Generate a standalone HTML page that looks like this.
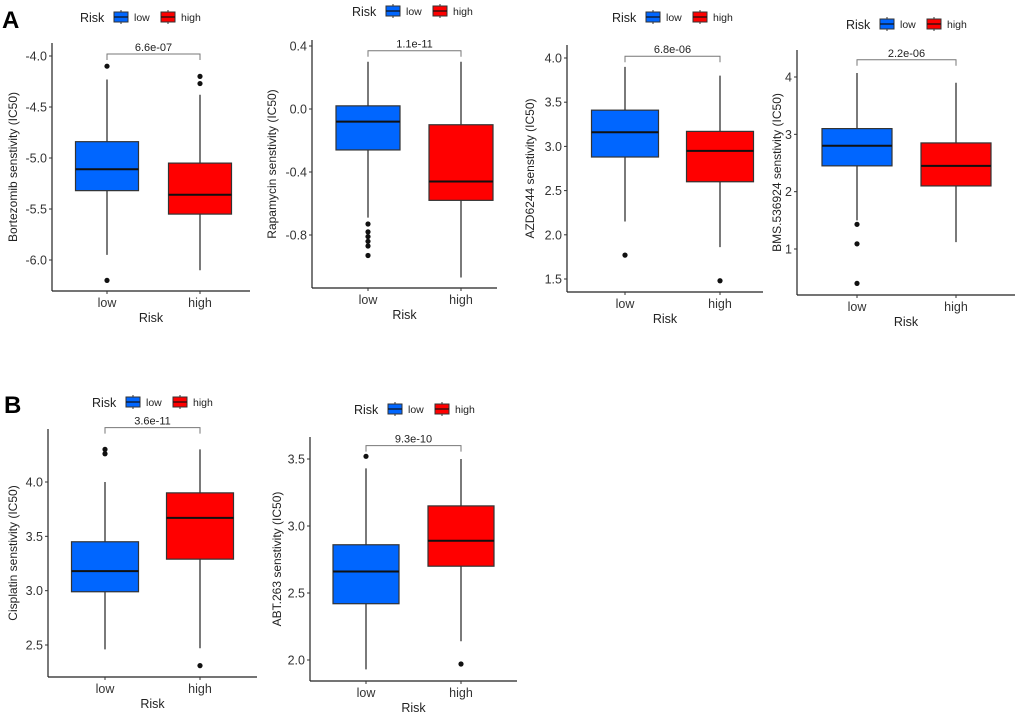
<!DOCTYPE html>
<html><head><meta charset="utf-8">
<style>
body{margin:0;background:#fff;}
svg{display:block;font-family:"Liberation Sans",Arial,sans-serif;}
</style></head>
<body>
<svg id="fig" width="1020" height="715" viewBox="0 0 1020 715">
<text x="2" y="28" font-size="24" font-weight="bold">A</text>
<text x="4" y="413" font-size="24" font-weight="bold">B</text>
</svg>
<script>
// ---- data (values per panel: [low, high]) ----
const categories = ["low", "high"];
const drugNames = ["Bortezomib", "Rapamycin", "AZD6244", "BMS.536924", "Cisplatin", "ABT.263"];
const pValues = ["6.6e-07", "1.1e-11", "6.8e-06", "2.2e-06", "3.6e-11", "9.3e-10"];
const tickLabels = [
  ["-4.0","-4.5","-5.0","-5.5","-6.0"],
  ["0.4","0.0","-0.4","-0.8"],
  ["4.0","3.5","3.0","2.5","2.0","1.5"],
  ["4","3","2","1"],
  ["4.0","3.5","3.0","2.5"],
  ["3.5","3.0","2.5","2.0"]
];
const whiskerLow = [[-5.95,-6.1],[-0.69,-1.07],[2.15,1.86],[1.5,1.12],[2.46,2.47],[1.93,2.14]];
const q1Values   = [[-5.32,-5.55],[-0.26,-0.58],[2.88,2.6],[2.45,2.1],[2.99,3.29],[2.42,2.7]];
const medians    = [[-5.11,-5.36],[-0.08,-0.46],[3.16,2.95],[2.8,2.45],[3.18,3.67],[2.66,2.89]];
const q3Values   = [[-4.84,-5.05],[0.02,-0.1],[3.41,3.17],[3.1,2.85],[3.45,3.9],[2.86,3.15]];
const whiskerHigh= [[-4.23,-4.38],[0.3,0.3],[3.9,3.8],[4.07,3.9],[4.0,4.3],[3.43,3.5]];
const outliers   = [
  [[-4.1,-6.2],[-4.2,-4.27]],
  [[-0.73,-0.78,-0.81,-0.84,-0.87,-0.93],[]],
  [[1.77],[1.48]],
  [[1.43,1.09,0.4],[]],
  [[4.26,4.3],[2.31]],
  [[3.52],[1.97]]
];
const bracketValues = [-3.98, 0.37, 4.02, 4.3, 4.5, 3.6];

// ---- layout (pixel geometry per panel, not data) ----
const layout = [
  {ax:52, top:43, bottom:291, right:250, y0:56, v0:-4.0, y1:260, v1:-6.0, xl:107, xh:200, bw:63, leg:[80,17], tt:17},
  {ax:312, top:40, bottom:288, right:497, y0:46, v0:0.4, y1:235, v1:-0.8, xl:368, xh:461, bw:64, leg:[352,11], tt:276},
  {ax:567, top:45, bottom:292, right:763, y0:58, v0:4.0, y1:279, v1:1.5, xl:625, xh:720, bw:67, leg:[612,17], tt:534},
  {ax:797, top:50, bottom:295, right:1015, y0:77, v0:4, y1:249, v1:1, xl:857, xh:956, bw:70, leg:[846,24], tt:781},
  {ax:48, top:429, bottom:677, right:257, y0:482, v0:4.0, y1:645, v1:2.5, xl:105, xh:200, bw:67, leg:[92,402], tt:17},
  {ax:310, top:437, bottom:681, right:517, y0:459, v0:3.5, y1:660, v1:2.0, xl:366, xh:461, bw:66, leg:[354,409], tt:281}
];
const fills = ["#0066ff", "#ff0000"];
const NS = "http://www.w3.org/2000/svg";
const svg = document.getElementById("fig");
function mk(tag, attrs, parent, text){
  const e = document.createElementNS(NS, tag);
  for (const k in attrs) e.setAttribute(k, attrs[k]);
  if (text !== undefined) e.textContent = text;
  (parent || svg).appendChild(e);
  return e;
}

layout.forEach((L, p) => {
  const g = mk("g", {});
  
  
  const yS = v => L.y0 + (v - L.v0) * (L.y1 - L.y0) / (L.v1 - L.v0);
  const xS = i => i === 0 ? L.xl : L.xh;

  // legend
  const lg = mk("g", {}, g);
  
  
  const [lx, ly] = L.leg;
  mk("text", {x:lx, y:ly+5, "font-size":12.5, fill:"#222"}, lg, "Risk");
  [["low",lx+34],["high",lx+81]].forEach(([lab, kx], i) => {
    const k = mk("g", {}, lg);
    
    
    mk("line", {x1:kx+7, x2:kx+7, y1:ly-7, y2:ly+7, stroke:"#333", "stroke-width":1}, k);
    mk("rect", {x:kx, y:ly-5, width:14, height:10, fill:fills[i], stroke:"#333", "stroke-width":1}, k);
    mk("line", {x1:kx, x2:kx+14, y1:ly, y2:ly, stroke:"#111", "stroke-width":1.2}, k);
    mk("text", {x:kx+20, y:ly+4, "font-size":10.5, fill:"#222"}, k, lab);
  });

  // axes
  const yAxis = mk("line", {x1:L.ax, x2:L.ax, y1:L.top, y2:L.bottom, stroke:"#222", "stroke-width":1.2}, g);
  
  
  const xAxis = mk("line", {x1:L.ax, x2:L.right, y1:L.bottom, y2:L.bottom, stroke:"#222", "stroke-width":1.2}, g);
  
  
  tickLabels[p].forEach(t => {
    const y = yS(parseFloat(t));
    mk("line", {x1:L.ax-3, x2:L.ax, y1:y, y2:y, stroke:"#333"}, g);
    const tx = mk("text", {x:L.ax-5, y:y+4.5, "font-size":12.5, "text-anchor":"end", fill:"#333"}, g, t);
    
    
  });
  categories.forEach((c, i) => {
    mk("line", {x1:xS(i), x2:xS(i), y1:L.bottom, y2:L.bottom+3, stroke:"#333"}, g);
    const tx = mk("text", {x:xS(i), y:L.bottom+16, "font-size":12.5, "text-anchor":"middle", fill:"#333"}, g, c);
    
    
  });
  const xt = mk("text", {x:(L.ax+L.right)/2, y:L.bottom+31, "font-size":12.5, "text-anchor":"middle", fill:"#222"}, g, "Risk");
  
  
  const cy = (L.top+L.bottom)/2, tx0 = L.tt;
  const yt = mk("text", {x:tx0, y:cy, "font-size":12, "text-anchor":"middle", fill:"#222", transform:`rotate(-90 ${tx0} ${cy})`}, g, drugNames[p] + " senstivity (IC50)");
  
  

  // boxes
  categories.forEach((c, i) => {
    const bg = mk("g", {}, g);
    
    
    const x = xS(i), w = L.bw;
    mk("line", {x1:x, x2:x, y1:yS(whiskerHigh[p][i]), y2:yS(whiskerLow[p][i]), stroke:"#222", "stroke-width":1.2}, bg);
    mk("rect", {x:x-w/2, y:yS(q3Values[p][i]), width:w, height:yS(q1Values[p][i])-yS(q3Values[p][i]), fill:fills[i], stroke:"#333", "stroke-width":1.2}, bg);
    mk("line", {x1:x-w/2, x2:x+w/2, y1:yS(medians[p][i]), y2:yS(medians[p][i]), stroke:"#111", "stroke-width":2}, bg);
    outliers[p][i].forEach(v => {
      const o = mk("circle", {cx:x, cy:yS(v), r:2.6, fill:"#111"}, bg);
      
      
    });
  });

  // significance bracket
  const by = yS(bracketValues[p]);
  const br = mk("path", {d:`M${L.xl},${by+6}V${by}H${L.xh}V${by+6}`, fill:"none", stroke:"#777", "stroke-width":1}, g);
  
  
  const pv = mk("text", {x:(L.xl+L.xh)/2, y:by-3, "font-size":11, "text-anchor":"middle", fill:"#222"}, g, pValues[p]);
  
  
});
</script>
</body></html>
